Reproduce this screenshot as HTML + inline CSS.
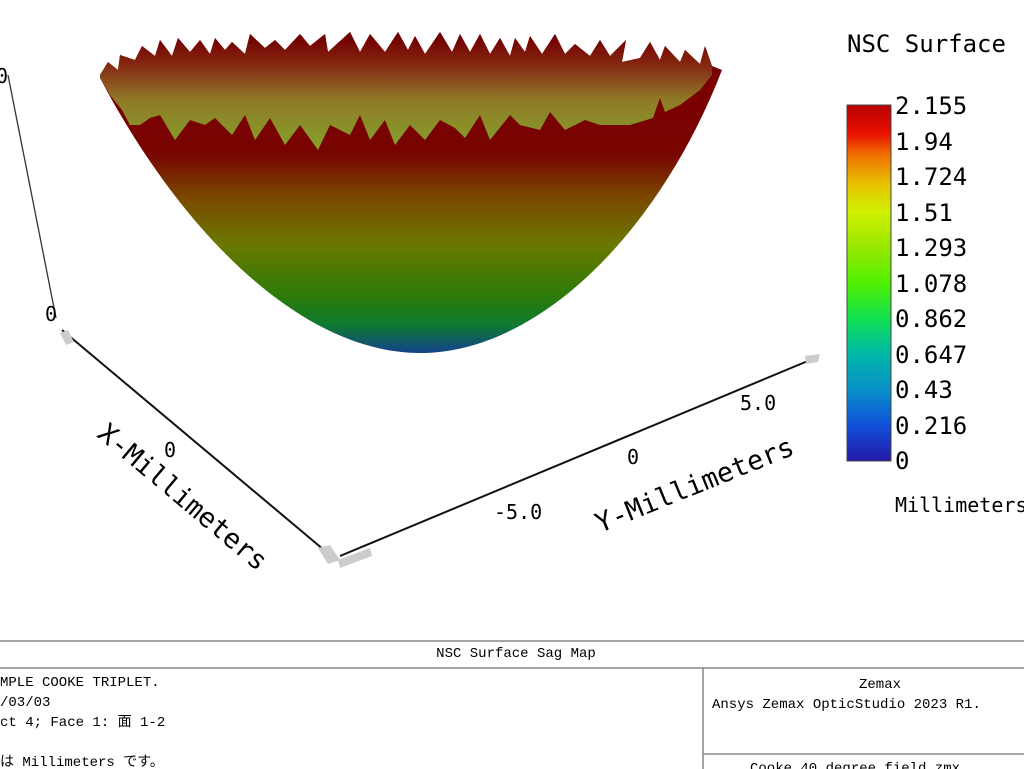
<!DOCTYPE html>
<html><head><meta charset="utf-8"><style>
html,body{margin:0;padding:0;background:#fff;width:1024px;height:769px;overflow:hidden}
svg{display:block}
text{font-family:"DejaVu Sans Mono","Liberation Mono","Noto Sans CJK JP",monospace}
.f{font-family:"Liberation Mono","Noto Sans CJK JP",monospace;font-size:14px}
</style></head><body>
<svg width="1024" height="769" viewBox="0 0 1024 769">
<defs>
<linearGradient id="body" x1="0" y1="60" x2="0" y2="354" gradientUnits="userSpaceOnUse">
<stop offset="0" stop-color="#7a0000"/>
<stop offset="0.32" stop-color="#780400"/>
<stop offset="0.47" stop-color="#7a4a00"/>
<stop offset="0.63" stop-color="#6a7800"/>
<stop offset="0.8" stop-color="#2d7a08"/>
<stop offset="0.9" stop-color="#0f7a30"/>
<stop offset="1" stop-color="#124090"/>
</linearGradient>
<linearGradient id="inner" x1="0" y1="38" x2="0" y2="150" gradientUnits="userSpaceOnUse">
<stop offset="0" stop-color="#720000"/>
<stop offset="0.25" stop-color="#862a12"/>
<stop offset="0.55" stop-color="#907a28"/>
<stop offset="1" stop-color="#84a22a"/>
</linearGradient>
<linearGradient id="cb" x1="0" y1="461" x2="0" y2="105" gradientUnits="userSpaceOnUse">
<stop offset="0" stop-color="#2418a8"/>
<stop offset="0.1" stop-color="#1050d8"/>
<stop offset="0.2" stop-color="#0890c8"/>
<stop offset="0.3" stop-color="#00b8a8"/>
<stop offset="0.4" stop-color="#10e050"/>
<stop offset="0.5" stop-color="#50f000"/>
<stop offset="0.6" stop-color="#98e800"/>
<stop offset="0.7" stop-color="#d0f000"/>
<stop offset="0.78" stop-color="#e8c000"/>
<stop offset="0.86" stop-color="#f07000"/>
<stop offset="0.92" stop-color="#e81000"/>
<stop offset="1" stop-color="#b80000"/>
</linearGradient>
</defs>
<path fill="url(#body)" d="M100,75 L108,62 118,70 120,55 135,60 142,46 155,56 160,40 172,56 178,38 190,52 200,40 210,54 215,38 225,50 232,42 245,54 250,34 265,48 275,40 285,50 300,34 310,46 325,34 328,52 350,32 360,52 370,34 385,52 398,32 408,50 415,36 425,54 440,32 452,52 460,34 470,52 480,34 490,54 500,38 510,56 515,38 525,52 530,36 542,54 555,34 565,54 575,44 590,56 600,40 610,56 626,40 622,62 640,58 650,42 660,60 665,46 680,62 685,50 700,64 705,46 712,66 722,70 C660,230 540,353 420,353 C300,353 180,230 100,78 Z"/>
<path fill="url(#inner)" d="M100,75 L108,62 118,70 120,55 135,60 142,46 155,56 160,40 172,56 178,38 190,52 200,40 210,54 215,38 225,50 232,42 245,54 250,34 265,48 275,40 285,50 300,34 310,46 325,34 328,52 350,32 360,52 370,34 385,52 398,32 408,50 415,36 425,54 440,32 452,52 460,34 470,52 480,34 490,54 500,38 510,56 515,38 525,52 530,36 542,54 555,34 565,54 575,44 590,56 600,40 610,56 626,40 622,62 640,58 650,42 660,60 665,46 680,62 685,50 700,64 705,46 712,66 712,75 700,90 680,105 665,112 660,98 653,118 630,125 600,125 585,120 565,130 550,112 540,130 520,125 510,115 490,140 480,115 465,138 455,128 440,120 425,140 410,125 395,145 385,120 370,140 360,115 350,135 330,125 318,150 300,125 285,145 270,118 255,140 245,115 232,135 215,118 205,125 190,120 175,140 160,115 150,118 140,125 130,125 122,110 110,95 100,78 Z"/>
<line x1="8" y1="75" x2="56" y2="318" stroke="#333" stroke-width="1.3"/>
<line x1="62" y1="330" x2="330" y2="555" stroke="#111" stroke-width="2"/>
<line x1="340" y1="556" x2="815" y2="358" stroke="#111" stroke-width="2"/>
<polygon points="60,333 68,330 74,342 66,345" fill="#ccc"/>
<polygon points="318,548 330,545 340,560 328,564" fill="#ccc"/>
<polygon points="338,560 370,548 372,556 340,568" fill="#ccc"/>
<polygon points="805,356 820,354 818,362 806,364" fill="#ccc"/>
<text x="-4" y="83" font-size="20">0</text>
<text x="45" y="321" font-size="20">0</text>
<text x="164" y="457" font-size="20">0</text>
<text x="494" y="519" font-size="20">-5.0</text>
<text x="627" y="464" font-size="20">0</text>
<text x="740" y="410" font-size="20">5.0</text>
<text x="0" y="0" font-size="27" transform="translate(96,436) rotate(40)">X-Millimeters</text>
<text x="0" y="0" font-size="27" transform="translate(600,533) rotate(-22)">Y-Millimeters</text>
<text x="847" y="52" font-size="24">NSC Surface</text>
<rect x="847" y="105" width="44" height="356" fill="url(#cb)" stroke="#444" stroke-width="1"/>
<g font-size="24">
<text x="895" y="114">2.155</text>
<text x="895" y="150">1.94</text>
<text x="895" y="185">1.724</text>
<text x="895" y="221">1.51</text>
<text x="895" y="256">1.293</text>
<text x="895" y="292">1.078</text>
<text x="895" y="327">0.862</text>
<text x="895" y="363">0.647</text>
<text x="895" y="398">0.43</text>
<text x="895" y="434">0.216</text>
<text x="895" y="469">0</text>
</g>
<text x="895" y="512" font-size="20">Millimeters</text>
<line x1="0" y1="641" x2="1024" y2="641" stroke="#888" stroke-width="1.5"/>
<line x1="0" y1="668" x2="1024" y2="668" stroke="#888" stroke-width="1.5"/>
<line x1="703" y1="668" x2="703" y2="769" stroke="#888" stroke-width="1.5"/>
<line x1="703" y1="754" x2="1024" y2="754" stroke="#888" stroke-width="1.5"/>
<text class="f" x="516" y="657" text-anchor="middle">NSC Surface Sag Map</text>
<text class="f" x="0" y="686">MPLE COOKE TRIPLET.</text>
<text class="f" x="0" y="706">/03/03</text>
<text class="f" x="0" y="726">ct 4; Face 1: 面 1-2</text>
<text class="f" x="0" y="766">は Millimeters です。</text>
<text class="f" x="880" y="688" text-anchor="middle">Zemax</text>
<text class="f" x="712" y="708">Ansys Zemax OpticStudio 2023 R1.</text>
<text class="f" x="750" y="772" font-size="16">Cooke 40 degree field.zmx</text>
</svg>
</body></html>
